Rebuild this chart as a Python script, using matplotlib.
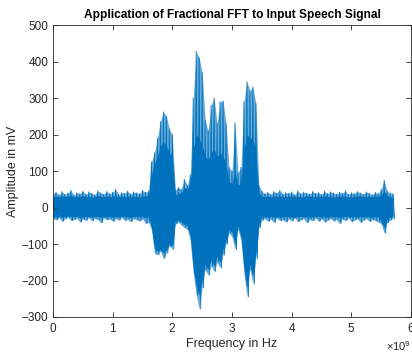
import numpy as np
import matplotlib
matplotlib.use("Agg")
import matplotlib.pyplot as plt
from matplotlib.ticker import ScalarFormatter

plt.rcParams['font.family'] = ['Liberation Sans', 'DejaVu Sans']
plt.rcParams['mathtext.fontset'] = 'custom'
plt.rcParams['mathtext.rm'] = 'Liberation Sans'

# ---- data ----
# envelope sampled every 0.05e9 Hz from 0 to 5.70e9 Hz
step_ghz = 0.05
peaks = [38, 42, 35, 44, 36, 40, 47, 34, 41, 38, 45, 36, 43, 39, 35, 46, 40, 37, 44, 38,
         42, 50, 36, 41, 39, 45, 37, 43, 40, 38, 47, 42, 45,
         125, 150, 190, 235, 262, 250, 215, 200,
         48, 55, 50, 78, 60, 90,
         300, 428, 410, 370, 240, 210, 280, 300, 230, 290, 292, 230,
         110, 100, 232, 95, 110,
         290, 345, 320, 330, 285, 60,
         45, 38, 42, 36, 44, 40, 47, 37, 41, 39, 43, 35, 46, 38, 42, 40, 37, 44, 39, 41,
         36, 45, 38, 43, 40, 37, 42, 39, 46, 36, 41, 38, 44, 40, 37, 43, 39, 35, 42, 38,
         50, 75, 45, 40, 38]
troughs = [-30, -34, -28, -38, -31, -27, -36, -33, -29, -40, -32, -35, -28, -37, -30, -33, -42,
           -29, -34, -31, -38, -30, -35, -27, -36, -32, -39, -30, -34, -37, -31, -44, -40,
           -60, -125, -130, -120, -140, -125, -105, -115,
           -45, -40, -48, -55, -60, -90,
           -180, -240, -278, -220, -170, -185, -160, -175, -150, -165, -130, -100,
           -70, -80, -115, -60, -90,
           -180, -245, -170, -210, -140, -55,
           -35, -30, -38, -32, -41, -29, -36, -33, -40, -31, -37, -28, -39, -34, -30, -42,
           -33, -36, -29, -38, -31, -40, -35, -30, -37, -33, -44, -32, -36, -29, -39, -34,
           -31, -41, -35, -30, -38, -33, -36, -40,
           -45, -70, -42, -34, -30]
# dense (solid-looking) core of the signal on the same grid
core_hi = [30, 31, 29, 32, 30, 31, 33, 29, 30, 31, 32, 30, 31, 29, 30, 32, 31, 30, 32, 29,
           31, 33, 30, 31, 29, 32, 30, 31, 30, 29, 32, 31, 33,
           90, 120, 140, 170, 180, 170, 150, 140,
           35, 38, 40, 55, 50, 70,
           160, 200, 190, 170, 140, 130, 150, 160, 140, 150, 140, 120,
           70, 65, 100, 60, 70,
           160, 200, 190, 190, 150, 40,
           32, 30, 31, 29, 32, 30, 31, 30, 29, 31, 32, 30, 31, 29, 30, 32, 31, 30, 29, 31,
           30, 32, 30, 31, 29, 30, 31, 32, 30, 29, 31, 30, 32, 31, 30, 29, 31, 30, 32, 30,
           35, 45, 32, 30, 28]
core_lo = [-25, -26, -24, -27, -25, -24, -26, -25, -25, -27, -26, -24, -25, -26, -25, -24, -27,
           -25, -26, -24, -27, -25, -26, -24, -25, -26, -27, -25, -24, -26, -25, -27, -26,
           -55, -110, -120, -115, -125, -115, -100, -105,
           -38, -34, -40, -46, -50, -78,
           -165, -215, -240, -200, -155, -170, -145, -160, -135, -150, -115, -90,
           -60, -68, -100, -50, -78,
           -165, -220, -155, -190, -125, -45,
           -26, -25, -27, -24, -26, -25, -27, -26, -24, -25, -26, -27, -25, -24, -26, -25,
           -27, -26, -24, -25, -26, -25, -27, -24, -26, -25, -27, -26, -24, -25, -26, -25,
           -27, -24, -26, -25, -26, -27, -25, -26,
           -38, -55, -32, -26, -24]

xticks = [0, 1, 2, 3, 4, 5, 6]
yticks = [-300, -200, -100, 0, 100, 200, 300, 400, 500]

title = "Application of Fractional FFT to Input Speech Signal"
xlabel = "Frequency in Hz"
ylabel = "Amplitude in mV"

# ---- plot ----
blue = '#0072BD'
dark = '#262626'

fig = plt.figure(figsize=(4.12, 3.53), dpi=100)
ax = fig.add_axes([0.1286, 0.102, 0.869, 0.827])

f = np.arange(len(peaks)) * step_ghz * 1e9
fz = np.column_stack([f, f + step_ghz * 0.5e9]).ravel()
yz = np.column_stack([peaks, troughs]).ravel()

ax.fill_between(f, troughs, peaks, color=blue, alpha=0.6, lw=0)
ax.fill_between(f, core_lo, core_hi, color=blue, lw=0)
ax.plot(fz, yz, color=blue, lw=0.6)

ax.set_xlim(0, 6e9)
ax.set_ylim(-300, 500)
ax.set_xticks([t * 1e9 for t in xticks])
ax.set_yticks(yticks)
fmt = ScalarFormatter(useMathText=True)
fmt.set_powerlimits((0, 0))
ax.xaxis.set_major_formatter(fmt)
ax.xaxis.get_offset_text().set_fontsize(8)
ax.xaxis.get_offset_text().set_color(dark)

ax.tick_params(direction='in', length=3.5, width=0.6, colors=dark, labelsize=8.5,
               top=True, right=True)
for s in ax.spines.values():
    s.set_color(dark)
    s.set_linewidth(0.6)

ax.set_title(title, fontsize=8.6, fontweight='bold', color='black', pad=5)
ax.set_xlabel(xlabel, fontsize=9, color=dark, labelpad=2)
ax.set_ylabel(ylabel, fontsize=9, color=dark, labelpad=2)

fig.savefig('out.png', dpi=100)
